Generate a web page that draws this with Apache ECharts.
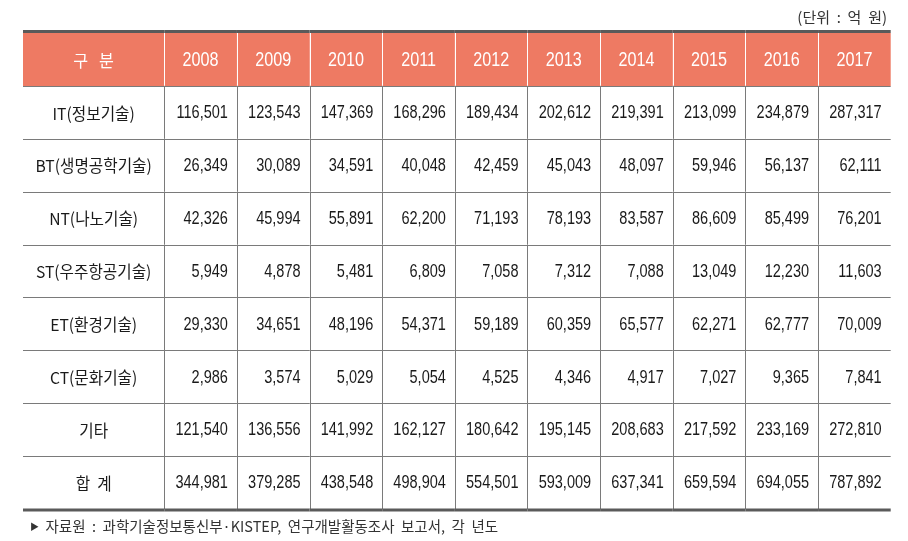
<!DOCTYPE html>
<html><head><meta charset="utf-8">
<script src="https://cdn.jsdelivr.net/npm/echarts@6/dist/echarts.min.js"></script>
<style>html,body{margin:0;padding:0;background:#fff}#c{width:908px;height:541px}</style>
</head><body><div id="c"></div>
<script>
const headerLabel = '구   분';
const years = ['2008','2009','2010','2011','2012','2013','2014','2015','2016','2017'];
const rowLabels = ['IT(정보기술)','BT(생명공학기술)','NT(나노기술)','ST(우주항공기술)','ET(환경기술)','CT(문화기술)','기타','합  계'];
const itValues = [116501,123543,147369,168296,189434,202612,219391,213099,234879,287317];
const btValues = [26349,30089,34591,40048,42459,45043,48097,59946,56137,62111];
const ntValues = [42326,45994,55891,62200,71193,78193,83587,86609,85499,76201];
const stValues = [5949,4878,5481,6809,7058,7312,7088,13049,12230,11603];
const etValues = [29330,34651,48196,54371,59189,60359,65577,62271,62777,70009];
const ctValues = [2986,3574,5029,5054,4525,4346,4917,7027,9365,7841];
const etcValues = [121540,136556,141992,162127,180642,195145,208683,217592,233169,272810];
const totalValues = [344981,379285,438548,498904,554501,593009,637341,659594,694055,787892];
const unitText = '(단위  :  억  원)';
const sourceText = '자료원  :  과학기술정보통신부·KISTEP,  연구개발활동조사  보고서,  각  년도';

const rows = [itValues, btValues, ntValues, stValues, etValues, ctValues, etcValues, totalValues];
const yCats = ['header'].concat(rowLabels);
const nRows = yCats.length;

const HEADER_BG = '#EE7A63';
const LINE = '#7a7a7a';
const THICK = '#5a5a5a';
const NUM_FONT = "'Liberation Sans','Arial',sans-serif";
const KR_FONT = "'Noto Sans CJK KR',sans-serif";

function fmt(v){ return v.toLocaleString('en-US'); }

const labelData = [];
const labelTexts = [];
for (let r = 0; r < nRows; r++) {
  labelData.push([0, r]);
  labelTexts.push(r === 0 ? headerLabel : rowLabels[r-1]);
}
const cellData = [];
const cellTexts = [];
for (let r = 0; r < nRows; r++) {
  for (let c = 0; c < years.length; c++) {
    cellData.push([c, r]);
    cellTexts.push(r === 0 ? years[c] : fmt(rows[r-1][c]));
  }
}

function px(v){ return Math.round(v) + 0.5; }

function makeRender(texts, isLabel) {
  return function(params, api) {
    const c = api.value(0), r = api.value(1);
    const center = api.coord([c, r]);
    const size = api.size([1, 1]);
    const w = size[0], h = size[1];
    const x0 = center[0] - w/2, y0 = center[1] - h/2;
    const x1 = x0 + w, y1 = y0 + h;
    const children = [];
    const isHeader = r === 0;
    if (isHeader) {
      children.push({type:'rect', shape:{x:x0, y:y0, width:w, height:h}, style:{fill:HEADER_BG}});
    }
    if (r < nRows - 1) {
      children.push({type:'line', shape:{x1:x0, y1:px(y1), x2:x1, y2:px(y1)}, style:{stroke:LINE, lineWidth:1}});
    }
    if (!isLabel) {
      children.push({type:'line', shape:{x1:px(x0), y1:y0, x2:px(x0), y2:y1}, style:{stroke:isHeader ? '#ffffff' : LINE, lineWidth:1}});
    }
    if (isHeader) {
      children.push({type:'line', shape:{x1:x0, y1:y0-1.5, x2:x1, y2:y0-1.5}, style:{stroke:THICK, lineWidth:3}});
    }
    if (r === nRows - 1) {
      children.push({type:'line', shape:{x1:x0, y1:y1+1, x2:x1, y2:y1+1}, style:{stroke:THICK, lineWidth:3}});
    }
    const txt = texts[params.dataIndex];
    const color = isHeader ? '#ffffff' : '#1a1a1a';
    if (isLabel) {
      children.push({type:'text', x:center[0], y:center[1]+1, scaleX:0.95,
        style:{text:txt, x:0, y:0, align:'center', verticalAlign:'middle', fill:color, font:(isHeader ? '17px ' : '16.5px ') + KR_FONT}});
    } else if (isHeader) {
      children.push({type:'text', x:center[0], y:center[1]+1.5, scaleX:0.83,
        style:{text:txt, x:0, y:0, align:'center', verticalAlign:'middle', fill:color, font:'19.5px ' + NUM_FONT}});
    } else {
      children.push({type:'text', x:x1 - 9, y:center[1]+1, scaleX:0.83,
        style:{text:txt, x:0, y:0, align:'right', verticalAlign:'middle', fill:color, font:'17.5px ' + NUM_FONT}});
    }
    return {type:'group', children:children};
  };
}

const chart = echarts.init(document.getElementById('c'), null, {renderer:'canvas'});
chart.setOption({
  animation:false,
  backgroundColor:'#ffffff',
  title:[
    {text:unitText, right:16, top:5, textStyle:{fontFamily:KR_FONT, fontSize:15, fontWeight:'normal', color:'#333'}},
    {text:'{a|▶}  ' + sourceText, left:25, top:514, textStyle:{fontFamily:KR_FONT, fontSize:14.5, fontWeight:'normal', color:'#333',
      rich:{a:{fontSize:9, color:'#333', fontFamily:KR_FONT}}}}
  ],
  grid:[
    {left:23, top:33, width:141.3, height:476},
    {left:164.3, right:17.3, top:33, height:476}
  ],
  xAxis:[
    {type:'category', gridIndex:0, data:[headerLabel], show:false},
    {type:'category', gridIndex:1, data:years, show:false}
  ],
  yAxis:[
    {type:'category', gridIndex:0, data:yCats, inverse:true, show:false},
    {type:'category', gridIndex:1, data:yCats, inverse:true, show:false}
  ],
  series:[
    {type:'custom', xAxisIndex:0, yAxisIndex:0, data:labelData, renderItem:makeRender(labelTexts, true), silent:true},
    {type:'custom', xAxisIndex:1, yAxisIndex:1, data:cellData, renderItem:makeRender(cellTexts, false), silent:true}
  ]
});
</script>
</body></html>
